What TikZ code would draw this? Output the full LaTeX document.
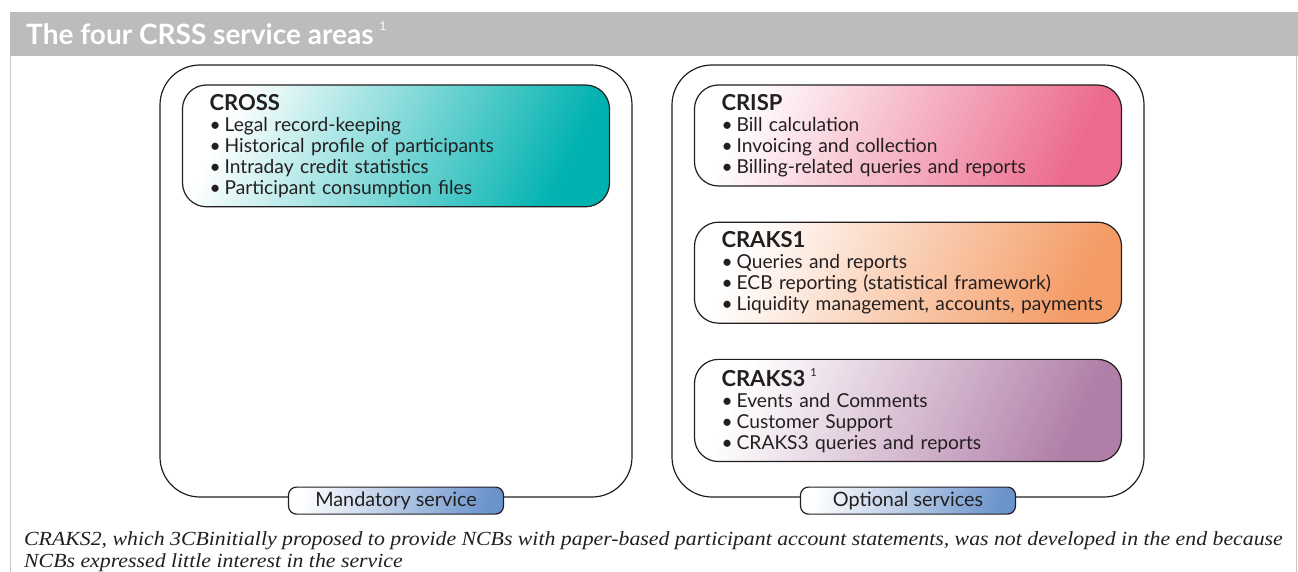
\documentclass[tikz,border=0pt]{standalone}
\usepackage{fontspec}
\setmainfont{Liberation Serif}
\newfontfamily\gillfont{Lato}
\newfontfamily\notefont{Liberation Serif}[FakeStretch=1.09]
\usetikzlibrary{positioning}

\definecolor{headgray}{HTML}{BBBCBE}
\definecolor{framegray}{HTML}{C8C8C8}
\definecolor{crossteal}{HTML}{00B2B0}
\definecolor{crisppink}{HTML}{EC6A8C}
\definecolor{craksorange}{HTML}{F49C66}
\definecolor{craksmauve}{HTML}{B07EA7}
\definecolor{tagblue}{HTML}{6A93CC}
\definecolor{inkgray}{HTML}{231F20}

\tikzset{
  area/.style={draw=inkgray, line width=1.2pt, rounded corners=40pt,
    minimum width=472pt, minimum height=432pt},
  svcbox/.style={draw=inkgray, line width=1.2pt, rounded corners=24pt,
    left color=white, right color=#1, shading angle=65,
    text width=373pt, inner xsep=27pt, inner ysep=9.2pt, align=left,
    text=inkgray, font=\gillfont\fontsize{19.2}{21}\selectfont},
  tag/.style={draw=inkgray, line width=1.2pt, rounded corners=8pt,
    left color=white, right color=tagblue, shading angle=80,
    minimum width=215pt, minimum height=27pt, inner sep=0pt,
    text=inkgray, font=\gillfont\fontsize{19.8}{20}\selectfont},
}

\newcommand{\svctitle}[1]{{\bfseries\fontsize{22}{21}\selectfont #1}}
\newcommand{\svcitem}[1]{\mbox{\textbullet\hspace{4pt}#1}}

\begin{document}
\begin{tikzpicture}[x=1pt, y=-1pt]
\useasboundingbox (0,0) rectangle (1298,572);

% frame and heading
\fill[headgray] (10,12) rectangle (1298,56);
\draw[framegray, line width=1pt] (10,56) -- (10,572);
\draw[framegray, line width=1pt] (1296,56) -- (1296,572);
\node[anchor=base west, inner sep=0pt, text=white,
  font=\gillfont\bfseries\fontsize{28}{28}\selectfont] (heading) at (26,45)
  {The four CRSS service areas\hspace{6pt}\raisebox{0.5em}{\mdseries\fontsize{12}{12}\selectfont 1}};

% the two service groups
\node[area] (mand) at (396,281) {};
\node[area] (opt) at (908,281) {};

\node[svcbox=crossteal, below=20pt of mand.north] (cross)
  {\svctitle{CROSS}\\
   \svcitem{Legal record-keeping}\\
   \svcitem{Historical profile of participants}\\
   \svcitem{Intraday credit statistics}\\
   \svcitem{Participant consumption files}};

\node[svcbox=crisppink, below=20pt of opt.north] (crisp)
  {\svctitle{CRISP}\\
   \svcitem{Bill calculation}\\
   \svcitem{Invoicing and collection}\\
   \svcitem{Billing-related queries and reports}};

\node[svcbox=craksorange, below=35pt of crisp] (craks1)
  {\svctitle{CRAKS1}\\
   \svcitem{Queries and reports}\\
   \svcitem{ECB reporting (statistical framework)}\\
   \svcitem{Liquidity management, accounts, payments}};

\node[svcbox=craksmauve, below=35pt of craks1] (craks3)
  {\svctitle{CRAKS3}\hspace{5pt}\raisebox{0.5em}{\fontsize{11}{11}\selectfont 1}\\
   \svcitem{Events and Comments}\\
   \svcitem{Customer Support}\\
   \svcitem{CRAKS3 queries and reports}};

\node[tag] (mandtag) at ([yshift=-3pt]mand.south) {Mandatory service};
\node[tag] (opttag) at ([yshift=-3pt]opt.south) {Optional services};

% footnote
\node[anchor=base west, inner sep=0pt, align=left, text=inkgray,
  font=\notefont\itshape\fontsize{20}{22}\selectfont] (note) at (24,567)
  {CRAKS2, which 3CBinitially proposed to provide NCBs with paper-based participant account statements, was not developed in the end because\\
   NCBs expressed little interest in the service};
\end{tikzpicture}
\end{document}
